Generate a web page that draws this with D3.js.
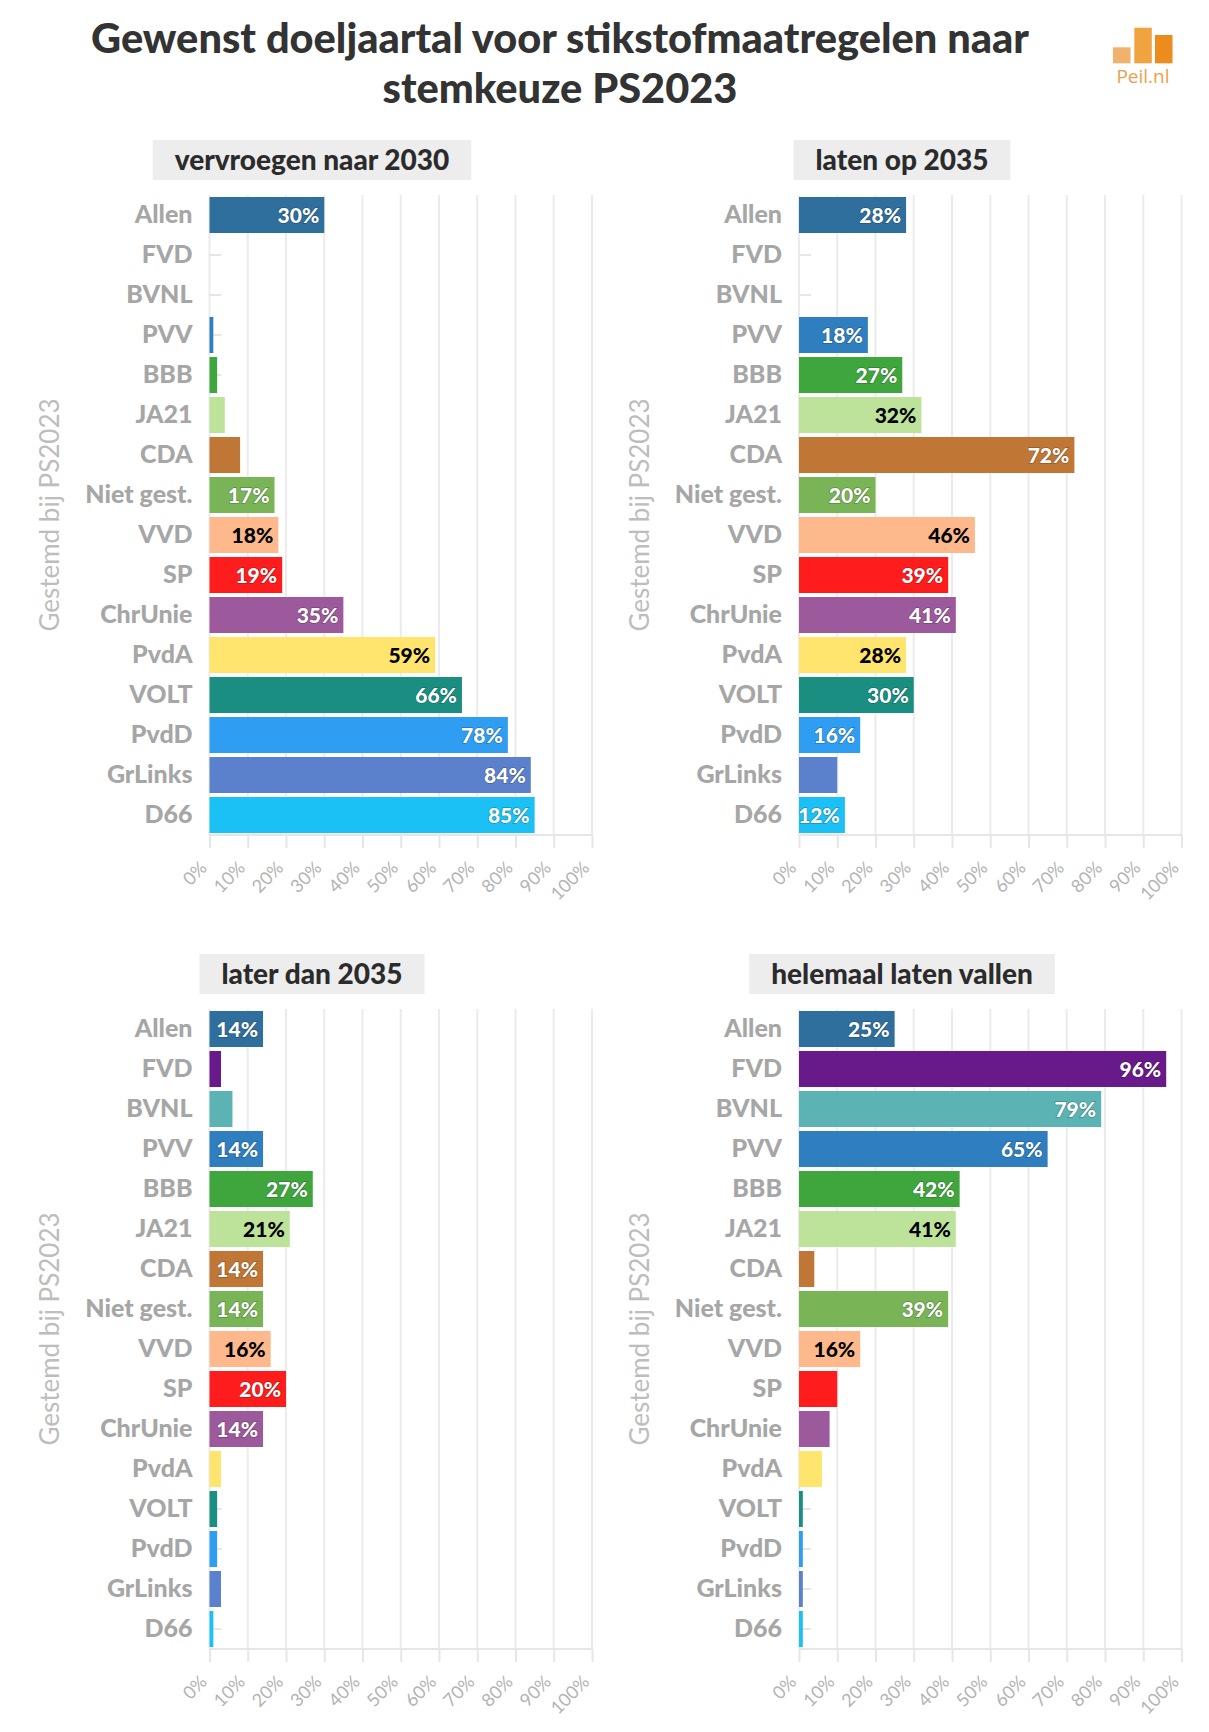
<!DOCTYPE html>
<html>
<head>
<meta charset="utf-8">
<script src="https://cdn.jsdelivr.net/npm/d3@7"></script>
<style>
  html, body { margin: 0; padding: 0; background: #ffffff; }
  svg { display: block; font-family: Lato, "Open Sans", sans-serif; }
</style>
</head>
<body>
<svg id="chart" width="1209" height="1732"></svg>
<script>
// ---------- data ----------
const categories = ["Allen","FVD","BVNL","PVV","BBB","JA21","CDA","Niet gest.","VVD","SP","ChrUnie","PvdA","VOLT","PvdD","GrLinks","D66"];
const partyColors = ["#2f6f9e","#681a8a","#5bb3b4","#2e7ec0","#3fa63e","#bde39a","#c07634","#79b457","#fdb98c","#ff1c1c","#9c5a9c","#ffe46d","#1a8f81","#2f9ef2","#5b80cc","#1bc1f5"];
const darkTextParties = ["JA21","VVD","PvdA"];
const panelTitles = ["vervroegen naar 2030","laten op 2035","later dan 2035","helemaal laten vallen"];
const vervroegen2030 = [30,0,0,1,2,4,8,17,18,19,35,59,66,78,84,85];
const latenOp2035   = [28,0,0,18,27,32,72,20,46,39,41,28,30,16,10,12];
const laterDan2035  = [14,3,6,14,27,21,14,14,16,20,14,3,2,2,3,1];
const helemaalVallen= [25,96,79,65,42,41,4,39,16,10,8,6,1,1,1,1];
const xTickValues = [0,10,20,30,40,50,60,70,80,90,100];
const chartTitle = ["Gewenst doeljaartal voor stikstofmaatregelen naar","stemkeuze PS2023"];
const yAxisTitle = "Gestemd bij PS2023";
const labelThreshold = 12;

const panelValues = [vervroegen2030, latenOp2035, laterDan2035, helemaalVallen];

// ---------- layout ----------
const svg = d3.select("#chart");
const plotW = 382.5, plotH = 640;
const colX = [209.5, 799];
const rowY = [195, 1009];
const headerCenterX = [312, 902];
const headerY = [140, 954];

// title
const titleTexts = svg.append("g").selectAll("text").data(chartTitle).join("text")
  .attr("x", 560).attr("y", (d,i) => 53 + i*50)
  .attr("text-anchor","middle")
  .attr("font-size", 36).attr("font-weight", 900)
  .attr("fill", "#333333")
  .text(d => d);
// fit first line to the reference width
const w0 = titleTexts.nodes()[0].getComputedTextLength();
const titleSize = Math.max(30, Math.min(44, 36 * 938 / w0));
titleTexts.attr("font-size", titleSize);

// logo
const logo = svg.append("g");
const logoBars = [{x:1113,y:47.3,c:"#f2b26c"},{x:1134.3,y:27.7,c:"#f0a440"},{x:1155,y:35,c:"#ec8c1c"}];
logo.selectAll("rect").data(logoBars).join("rect")
  .attr("x", d=>d.x).attr("y", d=>d.y).attr("width", 17.5).attr("height", d=>63.3-d.y).attr("fill", d=>d.c);
logo.append("text").attr("x", 1143).attr("y", 83).attr("text-anchor","middle")
  .attr("font-size", 19).attr("fill", "#eda04a").attr("font-family","'Open Sans', sans-serif").text("Peil.nl");

const y = d3.scaleBand().domain(categories).range([0, plotH]).paddingInner(0.1).paddingOuter(0.05);
const x = d3.scaleLinear().domain([0,100]).range([0, plotW]);
const color = d3.scaleOrdinal().domain(categories).range(partyColors);

panelValues.forEach((vals, i) => {
  const c = i % 2, r = Math.floor(i / 2);
  const data = categories.map((cat, k) => ({cat, v: vals[k]}));

  // header
  const hg = svg.append("g");
  const ht = hg.append("text")
    .attr("x", headerCenterX[c]).attr("y", headerY[r] + 29.5)
    .attr("text-anchor","middle").attr("font-size", 28).attr("font-weight", 900)
    .attr("fill","#2b2b2b").text(panelTitles[i]);
  const tw = ht.node().getComputedTextLength();
  hg.insert("rect","text")
    .attr("x", headerCenterX[c] - tw/2 - 22).attr("y", headerY[r])
    .attr("width", tw + 44).attr("height", 40).attr("fill","#ededed");

  const g = svg.append("g").attr("transform", `translate(${colX[c]},${rowY[r]})`);

  // vertical grid
  g.append("g").selectAll("line").data(xTickValues).join("line")
    .attr("x1", d=>x(d)).attr("x2", d=>x(d)).attr("y1", 0).attr("y2", plotH)
    .attr("stroke","#ebebeb").attr("stroke-width", 2);

  // y ticks (inside, light)
  g.append("g").selectAll("line").data(categories).join("line")
    .attr("x1", 0).attr("x2", 12)
    .attr("y1", d=>y(d)+y.bandwidth()/2).attr("y2", d=>y(d)+y.bandwidth()/2)
    .attr("stroke","#e6e6e6").attr("stroke-width", 2);

  // x axis line & ticks
  g.append("line").attr("x1", x(0)).attr("x2", x(100)).attr("y1", plotH).attr("y2", plotH)
    .attr("stroke","#e6e6e6").attr("stroke-width", 2);
  const xAxis = d3.axisBottom(x).tickValues(xTickValues).tickFormat(d => d + "%").tickSize(13).tickPadding(4);
  const xa = g.append("g").attr("transform", `translate(0,${plotH})`).call(xAxis);
  xa.select(".domain").remove();
  xa.selectAll(".tick line").attr("stroke","#e6e6e6").attr("stroke-width", 2);
  xa.selectAll(".tick text")
    .attr("font-family","Lato, sans-serif").attr("font-size", 18).attr("fill","#b3b3b3")
    .attr("text-anchor","end").attr("dy", null).attr("y", null).attr("x", null)
    .attr("transform","translate(-2,34) rotate(-45)");

  // bars
  g.append("g").selectAll("rect").data(data).join("rect")
    .attr("x", x(0)).attr("y", d=>y(d.cat))
    .attr("width", d=>x(d.v)-x(0)).attr("height", y.bandwidth())
    .attr("fill", d=>color(d.cat));

  // bar labels
  g.append("g").selectAll("text").data(data.filter(d => d.v >= labelThreshold)).join("text")
    .attr("x", d=>x(d.v) - 5).attr("y", d=>y(d.cat)+y.bandwidth()/2).attr("dy","0.36em")
    .attr("text-anchor","end").attr("font-size", 21).attr("font-weight", 900)
    .attr("fill", d => darkTextParties.includes(d.cat) ? "#000000" : "#ffffff")
    .attr("stroke", d => darkTextParties.includes(d.cat) ? "none" : "rgba(0,0,0,0.25)")
    .attr("stroke-width", 1.5).attr("paint-order","stroke")
    .text(d => d.v + "%");

  // y labels
  const ya = g.append("g").call(d3.axisLeft(y).tickSize(0).tickPadding(17));
  ya.select(".domain").remove();
  ya.selectAll(".tick text").attr("font-family","Lato, sans-serif").attr("font-size", 25)
    .attr("font-weight", 900).attr("fill","#a6a6a6");

  // y axis title
  g.append("text")
    .attr("transform", `translate(${50 - colX[0]},${plotH/2}) rotate(-90)`)
    .attr("text-anchor","middle").attr("dy","0.36em")
    .attr("font-size", 26).attr("fill","#bdbdbd").text(yAxisTitle);
});
</script>
</body>
</html>
